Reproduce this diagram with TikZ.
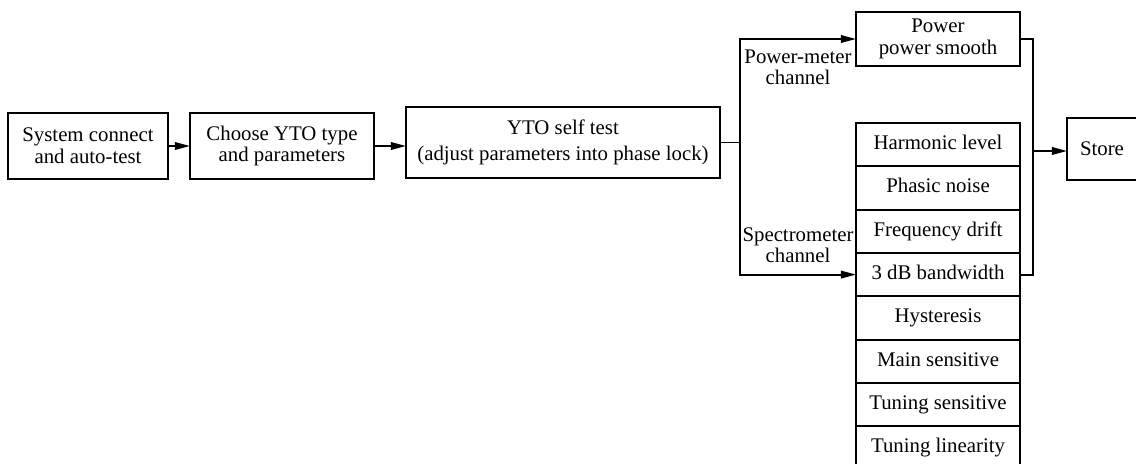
\documentclass[tikz,border=0pt]{standalone}
\usepackage{fontspec}
\setmainfont{Liberation Serif}
\usetikzlibrary{arrows.meta, positioning, calc}
\tikzset{
  blk/.style={rectangle, draw, line width=1.3pt, inner sep=2pt, outer sep=0pt,
    align=center, font=\fontsize{14.8}{15.5}\selectfont},
  cell/.style={blk, minimum width=4.1cm, minimum height=1.083cm,
    text height=10.5pt, text depth=3.5pt},
  arrow/.style={-{Triangle[length=3.8mm,width=1.9mm]}, line width=1.3pt},
  link/.style={line width=1.3pt},
  lbl/.style={font=\fontsize{14.8}{15}\selectfont, align=center, inner sep=0pt}
}
\begin{document}
\begin{tikzpicture}[x=0.025cm, y=-0.025cm]
  \useasboundingbox (0,0) rectangle (1136,464);
  \node[blk, minimum width=4cm, minimum height=1.65cm] (sys) at (88,146) {System connect\\and auto-test};
  \node[blk, minimum width=4.6cm, minimum height=1.65cm] (yto) at (282,146) {Choose YTO type\\and parameters};
  \node[blk, minimum width=7.85cm, minimum height=1.775cm] (self) at (563,142.5) {YTO self test\\[3pt](adjust parameters into phase lock)};
  \coordinate (split) at (740,142.5);
  \node[blk, minimum width=4.1cm, minimum height=1.35cm] (pwr) at (938,39) {Power\\power smooth};
  \node[cell] (harm) at (938,144.6) {Harmonic level};
  \node[cell, below=0pt of harm] (phase) {Phasic noise};
  \node[cell, below=0pt of phase] (drift) {Frequency drift};
  \node[cell, below=0pt of drift] (bw) {3 dB bandwidth};
  \node[cell, below=0pt of bw] (hyst) {Hysteresis};
  \node[cell, below=0pt of hyst] (msens) {Main sensitive};
  \node[cell, below=0pt of msens] (tsens) {Tuning sensitive};
  \node[cell, below=0pt of tsens] (tlin) {Tuning linearity};
  \node[blk, minimum width=1.75cm, minimum height=1.55cm] (store) at (1102,149) {Store};
  \coordinate (merge) at (1033,151);
  \node[lbl] (pmlbl) at (798,67) {Power-meter\\channel};
  \node[lbl] (splbl) at (798,245) {Spectrometer\\channel};
  % main chain
  \draw[arrow] (sys) -- (yto);
  \draw[arrow] (yto.east) -- (yto.east -| self.west);
  % channels
  \draw[link] (self.east) -- (split);
  \draw[arrow] (split) |- (pwr.west);
  \draw[arrow] (split) |- (bw.west);
  \draw[link] (pwr.east) -| (merge) |- (bw.east);
  \draw[arrow] (merge) -- (merge -| store.west);
\end{tikzpicture}
\end{document}
